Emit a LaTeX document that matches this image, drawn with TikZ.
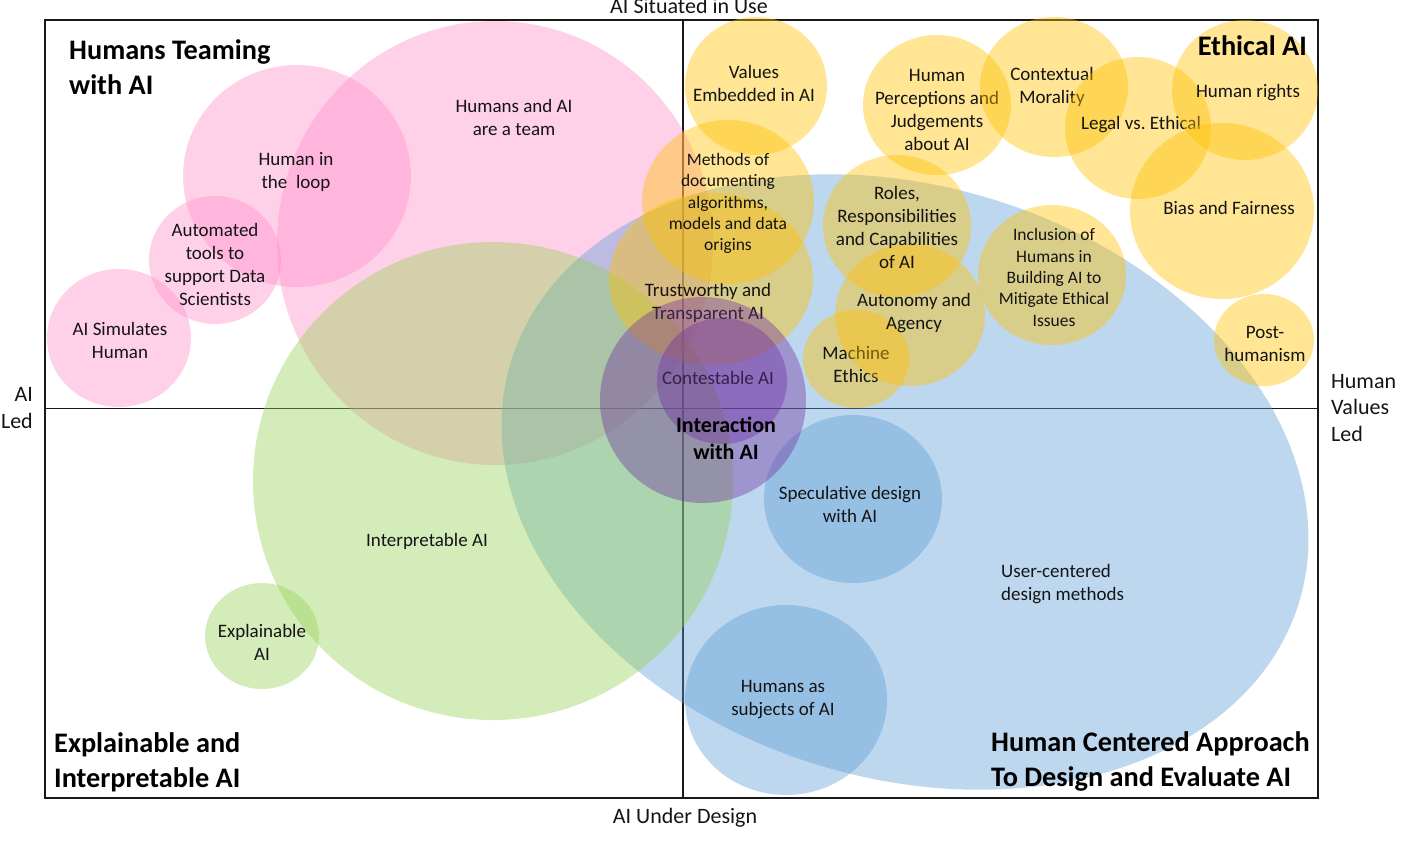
\documentclass[tikz,border=0pt]{standalone}
\usepackage{fontspec}
\setmainfont{Carlito}
\definecolor{pinkb}{RGB}{255,140,200}
\definecolor{blueb}{RGB}{91,155,213}
\definecolor{greenb}{RGB}{146,208,80}
\definecolor{yelb}{RGB}{255,192,0}
\definecolor{purpb}{RGB}{112,48,160}
\definecolor{txt}{RGB}{20,20,20}
\tikzset{
  lbl/.style={align=center, text=txt, font=\fontsize{19}{23}\selectfont, inner sep=0pt},
  lbls/.style={align=center, text=txt, font=\fontsize{17.5}{21.3}\selectfont, inner sep=0pt},
  ttl/.style={align=left, text=black, font=\fontsize{28.3}{35}\selectfont\bfseries, inner sep=0pt},
  axl/.style={text=txt, font=\fontsize{22}{26.5}\selectfont, inner sep=0pt},
  pinkc/.style={fill=pinkb, fill opacity=0.4},
  bluec/.style={fill=blueb, fill opacity=0.4},
  greenc/.style={fill=greenb, fill opacity=0.4},
  yelc/.style={fill=yelb, fill opacity=0.42},
  purpc/.style={fill=purpb, fill opacity=0.4},
  frameline/.style={line width=1.9pt, draw=black!90}
}
\begin{document}
\begin{tikzpicture}[x=1pt,y=-1pt]
\useasboundingbox (0,0) rectangle (1407,847);
% frame and axes
\coordinate (fTL) at (45,20);
\coordinate (fBR) at (1318,798);
\coordinate (vT) at (683,20);
\coordinate (vB) at (683,798);
\coordinate (hL) at (45,408.5);
\coordinate (hR) at (1318,408.5);
\draw[frameline] (fTL) rectangle (fBR);
\draw[frameline] (vT) -- (vB);
\draw[frameline] (hL) -- (hR);
% axis labels
\node[axl, anchor=base] (top) at (689,13) {AI Situated in Use};
\node[axl] (bottom) at (685,818) {AI Under Design};
\node[axl, align=right, anchor=east] (left) at (33,408) {AI\\Led};
\node[axl, align=left, anchor=west] (right) at (1331,408) {Human\\Values\\Led};

% pink
\fill[pinkc] (495,243) ellipse [x radius=218pt, y radius=222pt];
\node[lbl] (team) at (514,117) {Humans and AI\\are a team};
\fill[pinkc] (297,176) ellipse [x radius=114pt, y radius=111pt];
\node[lbl] (loop) at (296,172) {Human in\\the~~loop};
\fill[pinkc] (215,260) ellipse [x radius=66pt, y radius=64pt];
\node[lbl] (auto) at (215,264) {Automated\\tools to\\support Data\\Scientists};
\fill[pinkc] (119,338) ellipse [x radius=72pt, y radius=69pt];
\node[lbl] (sim) at (120,340) {AI Simulates\\Human};

% blue
\fill[bluec, rotate around={-17:(905,482)}] (905,482) ellipse [x radius=412pt, y radius=296pt];
\node[lbl, align=left, anchor=west] (ucd) at (1001,584.5) {User-centered\\design methods};
\fill[bluec] (853,499) ellipse [x radius=89pt, y radius=84pt];
\node[lbl] (spec) at (850,504.5) {Speculative design\\with AI};
\fill[bluec] (786,700) ellipse [x radius=101pt, y radius=95pt];
\node[lbl] (subj) at (783,699.5) {Humans as\\subjects of AI};

% green
\fill[greenc] (493,481) ellipse [x radius=240pt, y radius=239pt];
\node[lbl] (interp) at (427,541) {Interpretable AI};
\fill[greenc] (262,636) ellipse [x radius=57pt, y radius=53pt];
\node[lbl] (expl) at (262,642.5) {Explainable\\AI};

% yellow
\fill[yelc] (756,86) ellipse [x radius=71pt, y radius=69pt];
\node[lbl] (values) at (754,83.5) {Values\\Embedded in AI};
\fill[yelc] (711,279) ellipse [x radius=102pt, y radius=86pt];
\node[lbl] (trust) at (708,302.5) {Trustworthy and\\Transparent AI};
\fill[yelc] (728,202) ellipse [x radius=86pt, y radius=82pt];
\node[lbls] (methods) at (728,203.5) {Methods of\\documenting\\algorithms,\\models and data\\origins};
\fill[yelc] (937,105) ellipse [x radius=74pt, y radius=70pt];
\node[lbl] (percep) at (937,110) {Human\\Perceptions and\\Judgements\\about AI};
\fill[yelc] (1054,87) ellipse [x radius=74pt, y radius=70pt];
\node[lbl] (context) at (1052,86.5) {Contextual\\Morality};
\fill[yelc] (1138,128) ellipse [x radius=73pt, y radius=71pt];
\node[lbl] (legal) at (1141,125) {Legal vs.\ Ethical};
\fill[yelc] (1245,90) ellipse [x radius=73pt, y radius=70pt];
\node[lbl] (rights) at (1248,93) {Human rights};
\fill[yelc] (1222,211) ellipse [x radius=92pt, y radius=88pt];
\node[lbl] (bias) at (1229,208) {Bias and Fairness};
\fill[yelc] (1052,275) ellipse [x radius=74pt, y radius=70pt];
\node[lbls] (incl) at (1054,277.5) {Inclusion of\\Humans in\\Building AI to\\Mitigate Ethical\\Issues};
\fill[yelc] (856,359) ellipse [x radius=53pt, y radius=49pt];
\node[lbl] (mach) at (856,364.5) {Machine\\Ethics};
\fill[yelc] (910,315) ellipse [x radius=75pt, y radius=71pt];
\node[lbl] (auton) at (914,313.5) {Autonomy and\\Agency};
\fill[yelc] (897,226) ellipse [x radius=74pt, y radius=71pt];
\node[lbl] (roles) at (897,227) {Roles,\\Responsibilities\\and Capabilities\\of AI};
\fill[yelc] (1264,340) ellipse [x radius=50pt, y radius=46pt];
\node[lbl] (post) at (1265,343.5) {Post-\\humanism};

% purple
\fill[purpc] (722,381) ellipse [x radius=65pt, y radius=63pt];
\node[lbl] (contest) at (718,378) {Contestable AI};
\fill[purpc] (703,400) ellipse [x radius=103pt, y radius=103pt];
\node[align=center, inner sep=0pt, font=\fontsize{22}{27}\selectfont\bfseries] (inter) at (726,438) {Interaction\\with AI};

% titles
\node[ttl, anchor=west] (tteam) at (69,67.5) {Humans Teaming\\with AI};
\node[ttl, anchor=east] (tethic) at (1307,46) {Ethical AI};
\node[ttl, anchor=west] (texpl) at (54,762.5) {Explainable and\\Interpretable AI};
\node[ttl, anchor=west] (thc) at (991,761) {Human Centered Approach\\To Design and Evaluate AI};
\end{tikzpicture}
\end{document}
